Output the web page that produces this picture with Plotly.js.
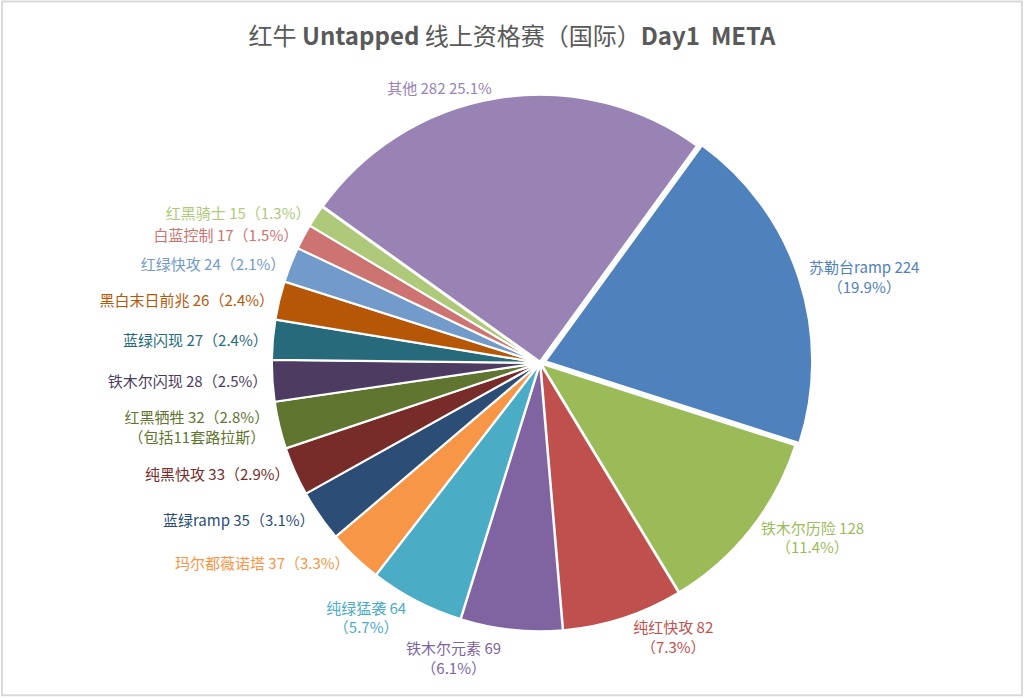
<!DOCTYPE html>
<html>
<head>
<meta charset="utf-8">
<script src="https://cdn.plot.ly/plotly-3.0.1.min.js"></script>
<style>
  html, body { margin: 0; padding: 0; background: #ffffff; }
  #chart { width: 1024px; height: 698px; }
  /* the original has no leader lines on its labels */
  #chart path.textline { stroke-opacity: 0 !important; }
</style>
</head>
<body>
<div id="chart"></div>
<script>
// decks in clockwise order, starting from the top-right edge of "其他"
const decks = ["苏勒台ramp", "铁木尔历险", "纯红快攻", "铁木尔元素", "纯绿猛袭", "玛尔都薇诺塔",
  "蓝绿ramp", "纯黑快攻", "红黑牺牲", "铁木尔闪现", "蓝绿闪现", "黑白末日前兆",
  "红绿快攻", "白蓝控制", "红黑骑士", "其他"];
const counts = [224, 128, 82, 69, 64, 37, 35, 33, 32, 28, 27, 26, 24, 17, 15, 282];
// percentages as printed on the original labels
const shares = ["19.9%", "11.4%", "7.3%", "6.1%", "5.7%", "3.3%", "3.1%", "2.9%",
  "2.8%", "2.5%", "2.4%", "2.4%", "2.1%", "1.5%", "1.3%", "25.1%"];
const colors = ["#4f81bd", "#9bbb59", "#c0504d", "#8064a2", "#4bacc6", "#f79646",
  "#2c4d75", "#772c2a", "#5f7530", "#4d3b62", "#276a7c", "#b65708",
  "#729aca", "#cd7371", "#afc97a", "#9983b5"];

// label formats: the big ones break the percentage onto a second line
const templates = decks.map(function (d, i) {
  if (d === "其他") return "%{label} %{value} %{customdata}";
  if (d === "红黑牺牲") return "%{label} %{value}（%{customdata}）<br>（包括11套路拉斯）";
  return i < 5 ? "%{label} %{value}<br>（%{customdata}）" : "%{label} %{value}（%{customdata}）";
});

const data = [{
  type: "pie",
  labels: decks,
  values: counts,
  customdata: shares,
  sort: false,
  direction: "clockwise",
  rotation: 36,
  marker: { colors: colors, line: { color: "#ffffff", width: 2 } },
  pull: decks.map(function (d) { return d === "苏勒台ramp" ? 0.02 : 0.005; }),
  texttemplate: templates,
  textposition: "outside",
  textfont: { family: "Noto Sans CJK SC, sans-serif", size: 15, color: colors },
  hoverinfo: "label+value+percent",
  domain: { x: [0.26, 0.795], y: [0.09, 0.87] },
  showlegend: false,
  automargin: false
}];

const layout = {
  width: 1024,
  height: 698,
  margin: { l: 0, r: 0, t: 0, b: 0 },
  paper_bgcolor: "#ffffff",
  title: {
    text: "红牛 <b>Untapped</b> 线上资格赛（国际）<b>Day1  META</b>",
    font: { family: "Noto Sans CJK SC, sans-serif", size: 24, color: "#595959" },
    x: 0.5, xanchor: "center",
    y: 0.948, yanchor: "middle"
  },
  shapes: [{
    type: "rect", xref: "paper", yref: "paper",
    x0: 0.002, x1: 0.998, y0: 0.004, y1: 0.998,
    line: { color: "#d9d9d9", width: 2 }
  }]
};

Plotly.newPlot("chart", data, layout, { displayModeBar: false });
</script>
</body>
</html>
